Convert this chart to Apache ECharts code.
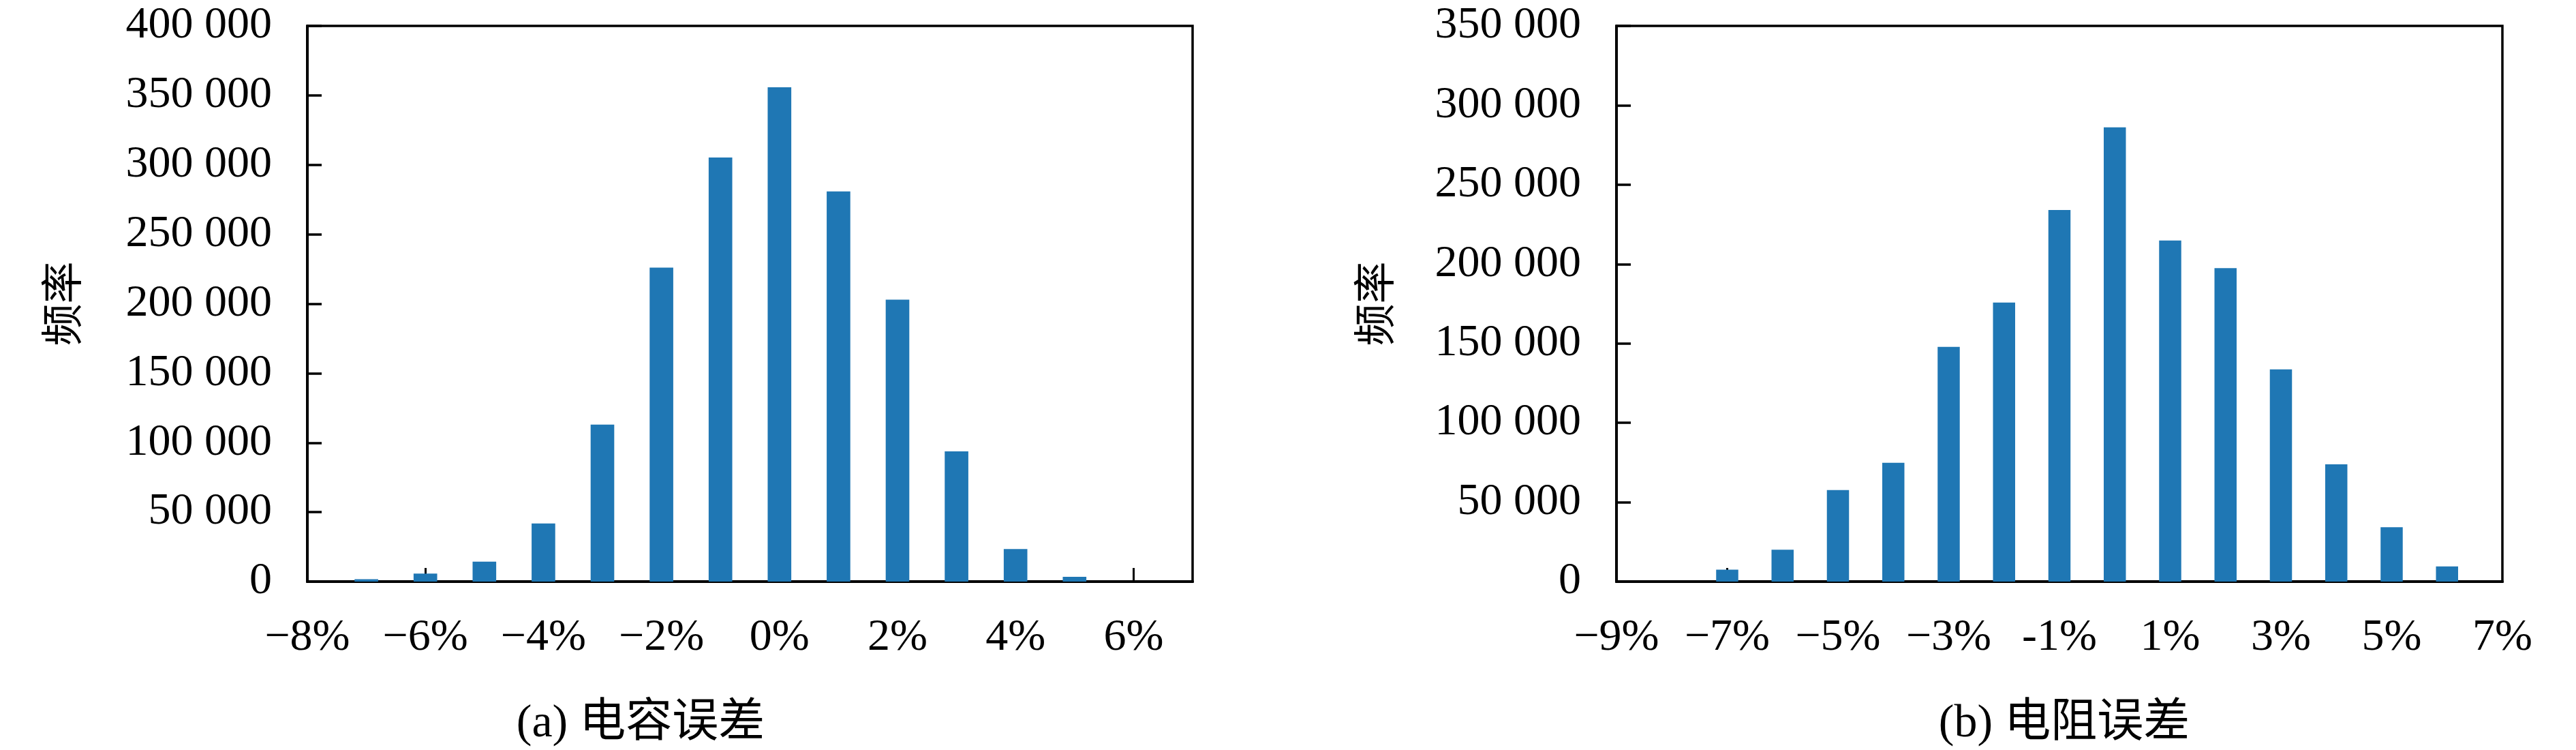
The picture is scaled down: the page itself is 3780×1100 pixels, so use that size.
<!DOCTYPE html>
<html>
<head>
<meta charset="utf-8">
<script src="https://cdn.jsdelivr.net/npm/echarts@6/dist/echarts.min.js"></script>
<style>
  html, body { margin: 0; padding: 0; background: #fff; }
  #chart { width: 3780px; height: 1100px; }
</style>
</head>
<body>
<div id="chart"></div>
<script>
// (a) capacitance error, bins -8% .. 7%
var binsA = [-8, -7, -6, -5, -4, -3, -2, -1, 0, 1, 2, 3, 4, 5, 6, 7]
var countsA = [0, 1700, 5800, 14400, 41900, 113000, 226000, 305300, 355800, 280900, 203000, 93800, 23400, 3400, 0, 0]
var tickLabelsA = ['\u22128%', '\u22126%', '\u22124%', '\u22122%', '0%', '2%', '4%', '6%']

// (b) resistance error, bins -9% .. 7%
var binsB = [-9, -8, -7, -6, -5, -4, -3, -2, -1, 0, 1, 2, 3, 4, 5, 6, 7]
var countsB = [0, 0, 7500, 20100, 57700, 74800, 147800, 175800, 234100, 286100, 214800, 197400, 133700, 73900, 34300, 9600, 0]
var tickLabelsB = ['\u22129%', '\u22127%', '\u22125%', '\u22123%', '-1%', '1%', '3%', '5%', '7%']

var yMaxA = 400000
var yMaxB = 350000
var yStep = 50000

var serif = "'Liberation Serif', 'DejaVu Serif', serif"
var cjk = "'Liberation Serif', 'Noto Sans CJK SC', serif"
var barColor = '#1f77b4'

function fmtY(v) {
	if (v === 0) return '0'
	return (v / 1000) + ' 000'
}

function xAxisFor(gridIndex, bins, labels) {
	return {
		type: 'category',
		gridIndex: gridIndex,
		data: bins,
		boundaryGap: false,
		axisLine: { lineStyle: { color: '#000', width: 4 } },
		axisTick: {
			inside: true,
			length: 20,
			lineStyle: { color: '#000', width: 3 },
			interval: function (i) { return i % 2 === 0 && i > 0 && i < bins.length - 1 }
		},
		axisLabel: {
			interval: function (i) { return i % 2 === 0 },
			formatter: function (v, i) { return labels[i / 2] },
			color: '#000',
			fontFamily: serif,
			fontSize: 66,
			margin: 50
		},
		splitLine: { show: false }
	}
}

function yAxisFor(gridIndex, max, nameGap) {
	return {
		type: 'value',
		gridIndex: gridIndex,
		min: 0,
		max: max,
		interval: yStep,
		name: '频率',
		nameLocation: 'middle',
		nameRotate: 90,
		nameGap: nameGap,
		nameTextStyle: { color: '#000', fontFamily: cjk, fontSize: 62 },
		axisLine: { show: true, lineStyle: { color: '#000', width: 4 } },
		axisTick: { show: true, inside: true, length: 21, lineStyle: { color: '#000', width: 3.5 } },
		axisLabel: {
			formatter: fmtY,
			color: '#000',
			fontFamily: serif,
			fontSize: 66,
			margin: 52
		},
		splitLine: { show: false }
	}
}

var chart = echarts.init(document.getElementById('chart'), null, { renderer: 'canvas' })

var option = {
	backgroundColor: '#fff',
	animation: false,
	grid: [
		{ left: 451, right: 2030, top: 38, bottom: 247, show: true, borderColor: '#000', borderWidth: 3.5 },
		{ left: 2372, right: 108, top: 38, bottom: 247, show: true, borderColor: '#000', borderWidth: 3.5 }
	],
	xAxis: [xAxisFor(0, binsA, tickLabelsA), xAxisFor(1, binsB, tickLabelsB)],
	yAxis: [yAxisFor(0, yMaxA, 322), yAxisFor(1, yMaxB, 317)],
	series: [
		{
			type: 'bar',
			xAxisIndex: 0,
			yAxisIndex: 0,
			data: countsA,
			barWidth: '40%',
			itemStyle: { color: barColor },
			z: 1
		},
		{
			type: 'bar',
			xAxisIndex: 1,
			yAxisIndex: 1,
			data: countsB,
			barWidth: '40%',
			itemStyle: { color: barColor },
			z: 1
		}
	],
	graphic: [
		{
			type: 'text',
			x: 940,
			y: 1062,
			style: { text: '(a) 电容误差', fill: '#000', font: '68px ' + cjk, align: 'center', verticalAlign: 'middle' }
		},
		{
			type: 'text',
			x: 3029,
			y: 1062,
			style: { text: '(b) 电阻误差', fill: '#000', font: '68px ' + cjk, align: 'center', verticalAlign: 'middle' }
		}
	]
}

chart.setOption(option, true)
</script>
</body>
</html>
